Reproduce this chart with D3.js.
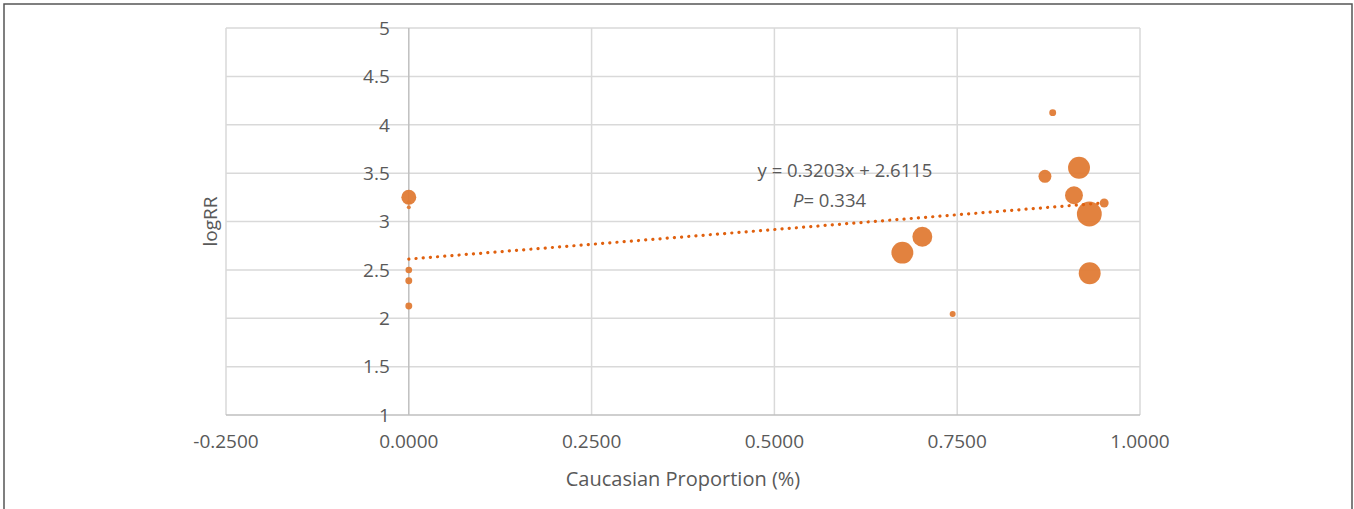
<!DOCTYPE html>
<html><head><meta charset="utf-8">
<script src="https://cdn.jsdelivr.net/npm/d3@7"></script>
<style>html,body{margin:0;padding:0;background:#fff;}svg{display:block;}</style>
</head><body>
<script>
const proportion = [0.0, 0.0, 0.0, 0.0, 0.0, 0.0, 0.8806, 0.9166, 0.870, 0.9097, 0.951, 0.9307, 0.7023, 0.675, 0.9312, 0.7438];
const logRR      = [3.25, 3.20, 3.147, 2.499, 2.388, 2.127, 4.125, 3.556, 3.467, 3.271, 3.191, 3.078, 2.843, 2.678, 2.465, 2.044];
const weights    = [56, 4, 4, 11, 12, 12, 12, 121, 42, 81, 20, 156, 100, 121, 121, 9];
const xTicks = [-0.25, 0, 0.25, 0.5, 0.75, 1.0];
const yTicks = [1, 1.5, 2, 2.5, 3, 3.5, 4, 4.5, 5];
// trendline as drawn in the figure (start / end)
const trendX = [0, 0.944];
const trendY = [2.6115, 3.188];
const eqLabel = "y = 0.3203x + 2.6115";
const pLabel = "0.334";

const W = 1354, H = 509;
const svg = d3.select("body").append("svg").attr("width", W).attr("height", H);
const font = "'Open Sans', sans-serif";
const txt = "#595959";

svg.append("rect").attr("x", 4).attr("y", 4).attr("width", 1348).attr("height", 530)
  .attr("fill", "none").attr("stroke", "#555").attr("stroke-width", 1.5);

const x = d3.scaleLinear().domain([-0.25, 1.0]).range([226, 1140]);
const y = d3.scaleLinear().domain([1, 5]).range([415, 28]);
const r = d3.scaleSqrt().domain([0, 160]).range([0, 12.6]);

// gridlines
svg.append("g").selectAll("line").data(xTicks.filter(d => d !== 0)).join("line")
  .attr("x1", d => x(d)).attr("x2", d => x(d)).attr("y1", y(1)).attr("y2", y(5))
  .attr("stroke", "#d9d9d9").attr("stroke-width", 1.5);
svg.append("g").selectAll("line").data(yTicks.filter(d => d !== 1)).join("line")
  .attr("x1", x(-0.25)).attr("x2", x(1)).attr("y1", d => y(d)).attr("y2", d => y(d))
  .attr("stroke", "#d9d9d9").attr("stroke-width", 1.5);
// axes lines
svg.append("line").attr("x1", x(-0.25)).attr("x2", x(1)).attr("y1", y(1)).attr("y2", y(1))
  .attr("stroke", "#bfbfbf").attr("stroke-width", 1.5);
svg.append("line").attr("x1", x(0)).attr("x2", x(0)).attr("y1", y(1)).attr("y2", y(5))
  .attr("stroke", "#bfbfbf").attr("stroke-width", 1.5);

// tick labels
const fmtX = d => d3.format(".4f")(d).replace("\u2212", "-");
svg.append("g").selectAll("text").data(xTicks).join("text")
  .attr("x", d => x(d)).attr("y", 448).attr("text-anchor", "middle")
  .attr("font-family", font).attr("font-size", 19).attr("fill", txt)
  .text(fmtX);
svg.append("g").selectAll("text").data(yTicks).join("text")
  .attr("x", x(0) - 19).attr("y", d => y(d)).attr("dy", "0.36em").attr("text-anchor", "end")
  .attr("font-family", font).attr("font-size", 19).attr("fill", txt)
  .text(d => String(d));

// axis titles
svg.append("text").attr("x", (x(-0.25) + x(1)) / 2).attr("y", 486).attr("text-anchor", "middle")
  .attr("font-family", font).attr("font-size", 20).attr("fill", txt).text("Caucasian Proportion (%)");
svg.append("text").attr("transform", `translate(217,${(y(1) + y(5)) / 2}) rotate(-90)`)
  .attr("text-anchor", "middle").attr("font-family", font).attr("font-size", 19).attr("fill", txt).text("logRR");

// bubbles
const pts = proportion.map((p, i) => ({p, v: logRR[i], w: weights[i]}));
svg.append("g").selectAll("circle").data(pts).join("circle")
  .attr("cx", d => x(d.p)).attr("cy", d => y(d.v)).attr("r", d => r(d.w))
  .attr("fill", "#e07b35").attr("fill-opacity", 0.95);

// trendline
svg.append("line").attr("x1", x(trendX[0])).attr("y1", y(trendY[0]))
  .attr("x2", x(trendX[1])).attr("y2", y(trendY[1]))
  .attr("stroke", "#e0600e").attr("stroke-width", 3.2).attr("stroke-linecap", "round")
  .attr("stroke-dasharray", "0.1 7.1");

// equation labels
svg.append("text").attr("x", 845).attr("y", 177).attr("text-anchor", "middle")
  .attr("font-family", font).attr("font-size", 18.5).attr("fill", txt).text(eqLabel);
const pt = svg.append("text").attr("x", 793).attr("y", 207)
  .attr("font-family", font).attr("font-size", 18.5).attr("fill", txt);
pt.append("tspan").attr("font-style", "italic").text("P");
pt.append("tspan").text("= " + pLabel);
</script>
</body></html>
